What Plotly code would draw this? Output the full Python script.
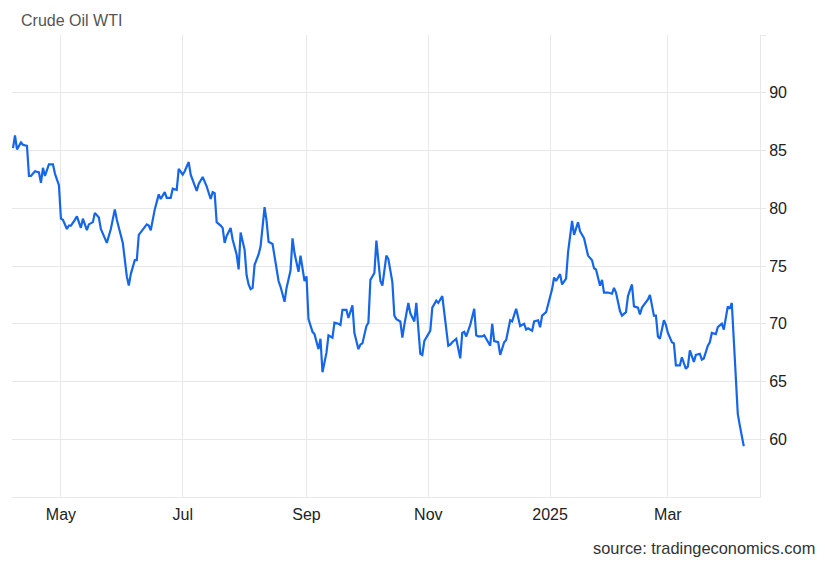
import plotly.graph_objects as go

title_text = "Crude Oil WTI"
source_text = "source: tradingeconomics.com"

dates = [
    "2024-04-07", "2024-04-08", "2024-04-09", "2024-04-11", "2024-04-12", "2024-04-14", "2024-04-15", "2024-04-16",
    "2024-04-18", "2024-04-20", "2024-04-21", "2024-04-22", "2024-04-23", "2024-04-25", "2024-04-27", "2024-04-28",
    "2024-04-30", "2024-05-01", "2024-05-02", "2024-05-04", "2024-05-05", "2024-05-06", "2024-05-08", "2024-05-09",
    "2024-05-11", "2024-05-12", "2024-05-14", "2024-05-15", "2024-05-17", "2024-05-18", "2024-05-20", "2024-05-21",
    "2024-05-24", "2024-05-26", "2024-05-28", "2024-05-29", "2024-06-01", "2024-06-03", "2024-06-04", "2024-06-05",
    "2024-06-07", "2024-06-08", "2024-06-09", "2024-06-10", "2024-06-12", "2024-06-13", "2024-06-14", "2024-06-15",
    "2024-06-17", "2024-06-18", "2024-06-19", "2024-06-20", "2024-06-22", "2024-06-23", "2024-06-25", "2024-06-26",
    "2024-06-28", "2024-06-29", "2024-07-01", "2024-07-02", "2024-07-04", "2024-07-05", "2024-07-08", "2024-07-09",
    "2024-07-11", "2024-07-12", "2024-07-13", "2024-07-15", "2024-07-16", "2024-07-17", "2024-07-18", "2024-07-20",
    "2024-07-21", "2024-07-22", "2024-07-23", "2024-07-25", "2024-07-26", "2024-07-28", "2024-07-29", "2024-07-30",
    "2024-08-01", "2024-08-02", "2024-08-03", "2024-08-04", "2024-08-05", "2024-08-06", "2024-08-08", "2024-08-09",
    "2024-08-11", "2024-08-12", "2024-08-13", "2024-08-15", "2024-08-16", "2024-08-18", "2024-08-19", "2024-08-21",
    "2024-08-22", "2024-08-24", "2024-08-25", "2024-08-26", "2024-08-28", "2024-08-29", "2024-08-31", "2024-09-01",
    "2024-09-02", "2024-09-04", "2024-09-05", "2024-09-07", "2024-09-08", "2024-09-09", "2024-09-11", "2024-09-12",
    "2024-09-14", "2024-09-15", "2024-09-17", "2024-09-18", "2024-09-19", "2024-09-21", "2024-09-22", "2024-09-24",
    "2024-09-25", "2024-09-27", "2024-09-28", "2024-09-29", "2024-10-01", "2024-10-02", "2024-10-03", "2024-10-05",
    "2024-10-06", "2024-10-08", "2024-10-09", "2024-10-11", "2024-10-12", "2024-10-14", "2024-10-15", "2024-10-16",
    "2024-10-18", "2024-10-19", "2024-10-20", "2024-10-22", "2024-10-23", "2024-10-25", "2024-10-26", "2024-10-28",
    "2024-10-29", "2024-10-30", "2024-11-01", "2024-11-02", "2024-11-03", "2024-11-05", "2024-11-06", "2024-11-07",
    "2024-11-08", "2024-11-11", "2024-11-12", "2024-11-13", "2024-11-15", "2024-11-17", "2024-11-18", "2024-11-19",
    "2024-11-20", "2024-11-22", "2024-11-24", "2024-11-25", "2024-11-26", "2024-11-28", "2024-11-29", "2024-11-30",
    "2024-12-02", "2024-12-03", "2024-12-04", "2024-12-06", "2024-12-07", "2024-12-09", "2024-12-10", "2024-12-12",
    "2024-12-13", "2024-12-15", "2024-12-16", "2024-12-17", "2024-12-19", "2024-12-20", "2024-12-21", "2024-12-23",
    "2024-12-24", "2024-12-26", "2024-12-27", "2024-12-28", "2024-12-30", "2024-12-31", "2025-01-02", "2025-01-03",
    "2025-01-04", "2025-01-06", "2025-01-07", "2025-01-09", "2025-01-10", "2025-01-12", "2025-01-13", "2025-01-15",
    "2025-01-16", "2025-01-18", "2025-01-19", "2025-01-20", "2025-01-22", "2025-01-23", "2025-01-24", "2025-01-26",
    "2025-01-27", "2025-01-28", "2025-01-30", "2025-02-01", "2025-02-02", "2025-02-03", "2025-02-05", "2025-02-06",
    "2025-02-08", "2025-02-09", "2025-02-11", "2025-02-12", "2025-02-14", "2025-02-15", "2025-02-16", "2025-02-18",
    "2025-02-19", "2025-02-20", "2025-02-22", "2025-02-23", "2025-02-24", "2025-02-25", "2025-02-27", "2025-02-28",
    "2025-03-01", "2025-03-03", "2025-03-04", "2025-03-05", "2025-03-07", "2025-03-08", "2025-03-10", "2025-03-11",
    "2025-03-12", "2025-03-14", "2025-03-15", "2025-03-17", "2025-03-18", "2025-03-19", "2025-03-21", "2025-03-22",
    "2025-03-23", "2025-03-25", "2025-03-26", "2025-03-28", "2025-03-29", "2025-03-31", "2025-04-01", "2025-04-02",
    "2025-04-05", "2025-04-06", "2025-04-08",
]

prices = [
    85.2, 86.3, 85.1, 85.7, 85.5, 85.4, 82.8, 82.8,
    83.2, 83.1, 82.2, 83.5, 82.8, 83.8, 83.8, 83.0,
    82.0, 79.1, 79.0, 78.2, 78.5, 78.5, 79.0, 79.3,
    78.3, 79.1, 78.1, 78.6, 78.8, 79.6, 79.2, 78.2,
    77.0, 78.2, 79.9, 79.0, 77.0, 74.1, 73.3, 74.3,
    75.5, 75.5, 77.7, 77.9, 78.4, 78.6, 78.5, 78.1,
    79.9, 80.6, 81.2, 80.8, 81.4, 80.9, 80.9, 81.7,
    81.6, 83.4, 82.9, 83.2, 84.0, 82.9, 81.5, 82.1,
    82.7, 82.3, 81.9, 80.8, 81.4, 81.3, 78.8, 78.5,
    78.3, 77.0, 77.6, 78.3, 77.3, 76.0, 74.7, 77.9,
    76.4, 74.2, 73.4, 73.0, 73.1, 75.1, 76.0, 76.7,
    80.1, 78.9, 77.1, 76.9, 75.7, 73.7, 73.2, 71.9,
    73.1, 74.6, 77.4, 76.1, 74.5, 75.9, 73.7, 74.1,
    70.4, 69.3, 69.1, 67.8, 68.7, 65.8, 67.5, 69.0,
    68.8, 70.1, 70.0, 69.9, 71.2, 71.2, 70.5, 71.6,
    69.2, 67.8, 68.2, 68.3, 69.8, 70.1, 73.8, 74.4,
    77.2, 73.7, 73.3, 75.9, 75.6, 73.6, 70.7, 70.4,
    70.2, 68.8, 69.9, 71.8, 70.9, 70.2, 71.8, 67.4,
    67.3, 68.5, 69.1, 69.4, 71.4, 72.0, 71.8, 72.1,
    72.4, 68.1, 68.2, 68.4, 68.7, 67.0, 69.2, 69.3,
    68.9, 69.9, 71.3, 69.0, 68.9, 68.9, 69.0, 68.7,
    68.1, 70.0, 68.5, 68.4, 67.3, 68.4, 68.6, 70.3,
    70.2, 71.3, 70.4, 69.8, 70.0, 69.5, 69.6, 69.4,
    70.2, 70.3, 69.7, 70.7, 71.0, 71.6, 73.0, 74.0,
    73.7, 74.3, 73.4, 73.9, 76.2, 78.9, 77.7, 78.8,
    78.0, 77.4, 76.6, 75.9, 75.5, 74.8, 74.7, 73.3,
    73.8, 72.7, 72.7, 72.6, 73.1, 72.7, 71.1, 70.7,
    71.0, 72.4, 73.4, 71.5, 71.4, 70.8, 71.4, 71.8,
    72.1, 72.5, 70.7, 70.7, 68.9, 68.7, 70.3, 69.9,
    69.2, 68.4, 68.3, 66.4, 66.4, 67.1, 66.1, 66.3,
    67.7, 66.7, 67.3, 67.4, 66.9, 67.0, 68.1, 68.4,
    69.2, 69.1, 69.7, 70.0, 69.5, 71.5, 71.3, 71.8,
    62.2, 61.2, 59.4,
]

x_tick_dates = ["2024-05-01", "2024-07-01", "2024-09-01", "2024-11-01", "2025-01-01", "2025-03-01"]
x_tick_labels = ["May", "Jul", "Sep", "Nov", "2025", "Mar"]
y_tick_values = [60, 65, 70, 75, 80, 85, 90, 95]
y_tick_labels = ["60", "65", "70", "75", "80", "85", "90", ""]

FONT = "Liberation Sans, Arial, sans-serif"
GRID = "#e8e8e8"

fig = go.Figure()
fig.add_trace(go.Scatter(
    x=dates, y=prices, mode="lines",
    line=dict(color="#1566e8", width=2.2),
    hoverinfo="x+y", showlegend=False,
))

fig.update_layout(
    width=825, height=566,
    margin=dict(l=4, r=73, t=27, b=77),
    paper_bgcolor="white", plot_bgcolor="white",
    font=dict(family=FONT, color="#333333", size=16),
    showlegend=False,
    annotations=[
        dict(text=title_text, xref="paper", yref="paper", x=0, y=1.0,
             xanchor="left", yanchor="bottom", xshift=7, yshift=4, showarrow=False,
             font=dict(family=FONT, size=16, color="#555555")),
        dict(text=source_text, xref="paper", yref="paper", x=1.0, y=0,
             xanchor="right", yanchor="top", xshift=57, yshift=-40, showarrow=False,
             font=dict(family=FONT, size=16.4, color="#333333")),
    ],
)

fig.update_xaxes(
    type="date",
    range=["2024-04-06 12:00", "2025-04-16 03:00"],
    tickvals=x_tick_dates, ticktext=x_tick_labels,
    showgrid=True, gridcolor=GRID, gridwidth=1,
    showline=True, linecolor=GRID, linewidth=1,
    ticks="outside", ticklen=3, tickcolor="white",
    tickfont=dict(family=FONT, size=16, color="#222222"),
    zeroline=False, fixedrange=True,
)

fig.update_yaxes(
    side="right",
    range=[55, 95],
    tickvals=y_tick_values, ticktext=y_tick_labels,
    showgrid=True, gridcolor=GRID, gridwidth=1,
    showline=True, linecolor=GRID, linewidth=1,
    ticks="outside", ticklen=5, tickcolor=GRID,
    tickfont=dict(family=FONT, size=16, color="#222222"),
    zeroline=False, fixedrange=True,
)

fig.write_html("out.html")
